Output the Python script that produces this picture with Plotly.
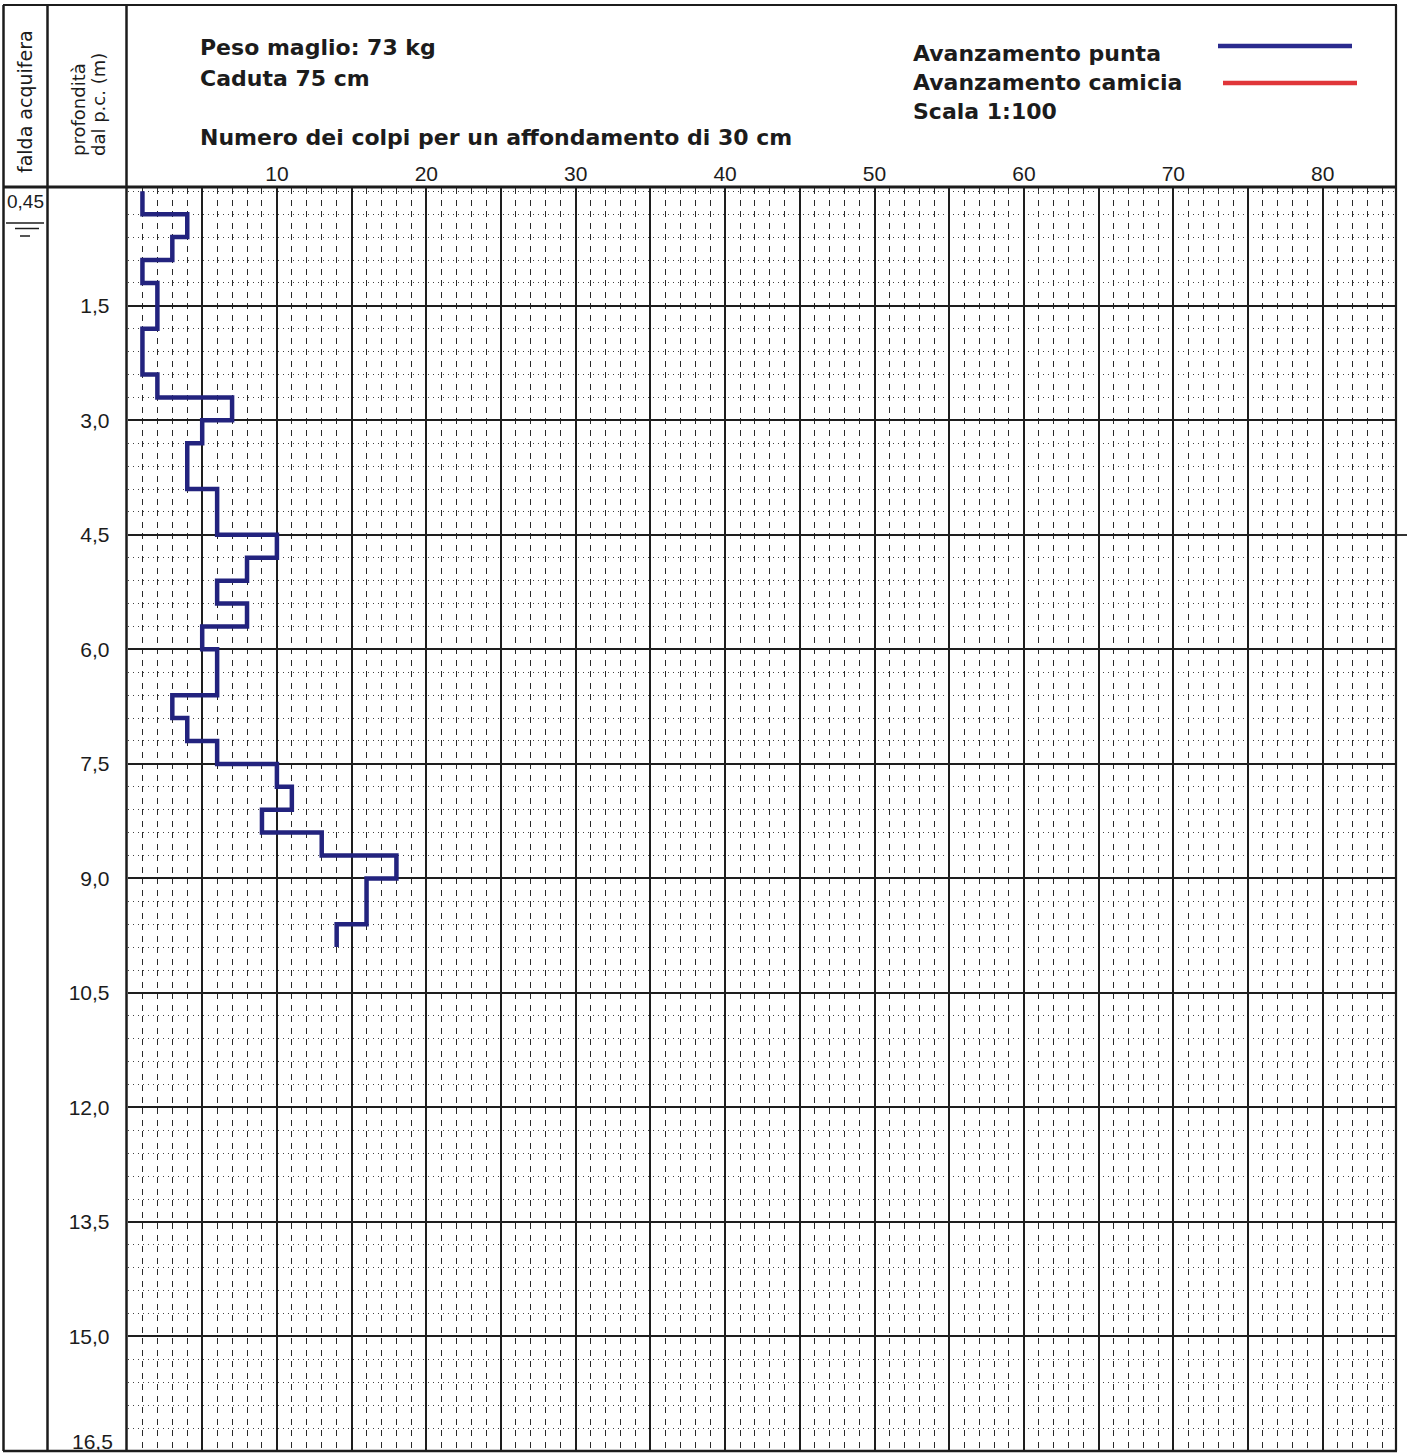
import plotly.graph_objects as go

# ---------------- data ----------------
depth_step = 0.3  # m, each reading is for 30 cm
blows_punta = [1, 4, 3, 1, 2, 2, 1, 1, 2, 7,
               5, 4, 4, 6, 6, 10, 8, 6, 8, 5,
               6, 6, 3, 4, 6, 10, 11, 9, 13, 18,
               16, 16, 14]
depth_top = [round(i * depth_step, 2) for i in range(len(blows_punta))]
x_tick_vals = [5, 10, 15, 20, 25, 30, 35, 40, 45, 50, 55, 60, 65, 70, 75, 80]
x_tick_text = ["", "10", "", "20", "", "30", "", "40", "", "50", "", "60", "", "70", "", "80"]
y_tick_vals = [1.5, 3.0, 4.5, 6.0, 7.5, 9.0, 10.5, 12.0, 13.5, 15.0]
y_tick_text = ["1,5", "3,0", "4,5", "6,0", "7,5", "9,0", "10,5", "12,0", "13,5", "15,0"]
water_level = "0,45"

W, H = 1407, 1453
FONT = "Liberation Sans, Arial, sans-serif"
WIDE = "DejaVu Sans, Liberation Sans, sans-serif"
INK = "#1c1c1c"


def px(x):
    return x / W


def py(y):
    return 1 - y / H


x_left, x_right = 127.5, 1396
y_top, y_bot = 188, 1451
units_per_px = 10 / 149.4
x_max = (x_right - x_left) * units_per_px
m_per_px = 1.5 / 114.5
y_min = -(191.3 - y_top) * m_per_px
y_max = 16.5

xs = blows_punta + [blows_punta[-1]]
ys = depth_top + [round(depth_top[-1] + depth_step, 2)]

fig = go.Figure()
fig.add_trace(go.Scatter(x=xs, y=ys, mode="lines", line=dict(color="#23237e", width=4.5, shape="vh"),
                         showlegend=False, hoverinfo="skip"))

fig.update_layout(
    width=W, height=H,
    margin=dict(l=0, r=0, t=0, b=0),
    paper_bgcolor="white", plot_bgcolor="white",
    font=dict(family=FONT, color=INK),
    xaxis=dict(
        domain=[px(x_left), px(x_right)], range=[0, x_max], side="top",
        tickmode="array", tickvals=x_tick_vals, ticktext=x_tick_text,
        tickfont=dict(size=21, color=INK, family=FONT), ticks="", ticklabelstandoff=2,
        showgrid=True, gridcolor="#1e1e1e", gridwidth=1.8, zeroline=False, showline=False,
        minor=dict(tickmode="linear", tick0=0, dtick=1, showgrid=True, gridcolor="#2a2a2a",
                   gridwidth=1.3, griddash="6px,5.5px", ticks=""),
        fixedrange=True,
    ),
    yaxis=dict(
        domain=[py(y_bot), py(y_top)], range=[y_max, y_min],
        tickmode="array", tickvals=y_tick_vals, ticktext=y_tick_text,
        tickfont=dict(size=21, color=INK, family=FONT), ticks="", ticklabelstandoff=17,
        showgrid=True, gridcolor="#1e1e1e", gridwidth=1.8, zeroline=False, showline=False,
        minor=dict(tickmode="linear", tick0=0, dtick=depth_step, showgrid=True, gridcolor="#444444",
                   gridwidth=1, griddash="1px,4px", ticks=""),
        fixedrange=True,
    ),
)

shapes = []


def hline(x0, x1, y, w=2, color=INK):
    shapes.append(dict(type="line", xref="paper", yref="paper", x0=px(x0), x1=px(x1), y0=py(y), y1=py(y),
                       line=dict(color=color, width=w), layer="above"))


def vline(x, y0, y1, w=2, color=INK):
    shapes.append(dict(type="line", xref="paper", yref="paper", x0=px(x), x1=px(x), y0=py(y0), y1=py(y1),
                       line=dict(color=color, width=w), layer="above"))


# frame
hline(3, 1397, 5, 2)
hline(3, 1397, 187, 3)
hline(3, 1397, 1451, 2.5)
vline(3.5, 5, 1451, 2.5)
vline(47.5, 5, 1451, 2.5)
vline(126.5, 5, 1451, 2.5)
vline(1396, 5, 1451, 2.2)
hline(1396, 1407, 535, 1.8)
# water table symbol
hline(6, 44, 223, 1.5)
hline(15, 39, 228.5, 1.5)
hline(20, 30, 236, 1.5)
# legend samples
hline(1218, 1352, 46, 4.5, "#2b2b8e")
hline(1223, 1357, 83, 4.5, "#e0363a")

fig.update_layout(shapes=shapes)

ann = []


def text(s, x, y, size, xanchor="left", yanchor="middle", bold=False, angle=0, family=FONT):
    ann.append(dict(text=f"<b>{s}</b>" if bold else s, x=px(x), y=py(y), xref="paper", yref="paper",
                    xanchor=xanchor, yanchor=yanchor, showarrow=False, textangle=angle,
                    font=dict(size=size, family=family, color=INK)))


text("Peso maglio: 73 kg", 198, 48, 22, bold=True, family=WIDE)
text("Caduta 75 cm", 198, 78, 22, bold=True, family=WIDE)
text("Numero dei colpi per un affondamento di 30 cm", 198, 138, 22, bold=True, family=WIDE)
text("Avanzamento punta", 911, 53, 22, bold=True, family=WIDE)
text("Avanzamento camicia", 911, 83, 22, bold=True, family=WIDE)
text("Scala 1:100", 911, 112, 22, bold=True, family=WIDE)
text("falda acquifera", 25, 102, 19, xanchor="center", angle=-90, family=WIDE)
text("profondità", 78, 110, 18, xanchor="center", angle=-90, family=WIDE)
text("dal p.c. (m)", 99, 105, 18, xanchor="center", angle=-90, family=WIDE)
text(water_level, 25, 202, 19, xanchor="center")
text("16,5", 115, 1441, 21, xanchor="right")

fig.update_layout(annotations=ann)

fig.write_html("out.html", config={"displayModeBar": False},
               post_script="document.body.style.margin='0';document.body.style.overflow='hidden';")
